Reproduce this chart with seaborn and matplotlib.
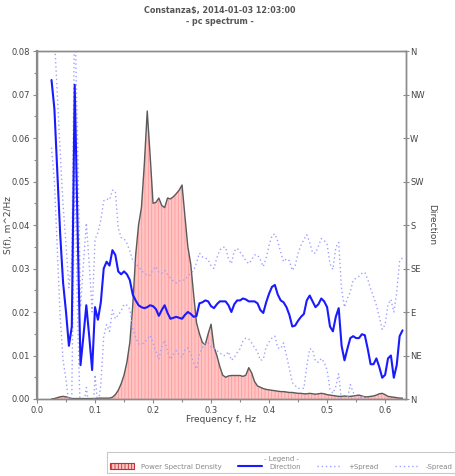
import numpy as np
import pandas as pd
import matplotlib
matplotlib.use("Agg")
import matplotlib.pyplot as plt
from matplotlib.patches import Patch
from matplotlib.lines import Line2D
from matplotlib.ticker import MultipleLocator, FormatStrFormatter
import seaborn as sns

# Frequency grid, Hz
freq_start, freq_step = 0.025, 0.005

# Power spectral density, m^2/Hz
psd = [
    0.0000, 0.0001, 0.0003, 0.0005, 0.0006, 0.0005, 0.0003, 0.0001, 0.0001, 0.0001,
    0.0001, 0.0001, 0.0001, 0.0001, 0.0001, 0.0001, 0.0002, 0.0002, 0.0002, 0.0002,
    0.0002, 0.0004, 0.0010, 0.0020, 0.0035, 0.0055, 0.0085, 0.0130, 0.0215, 0.0330,
    0.0400, 0.0440, 0.0540, 0.0662, 0.0560, 0.0450, 0.0452, 0.0462, 0.0445, 0.0440,
    0.0462, 0.0460, 0.0465, 0.0472, 0.0480, 0.0492, 0.0420, 0.0350, 0.0310, 0.0240,
    0.0175, 0.0150, 0.0130, 0.0125, 0.0150, 0.0172, 0.0120, 0.0100, 0.0075, 0.0055,
    0.0050, 0.0053, 0.0054, 0.0054, 0.0054, 0.0054, 0.0052, 0.0055, 0.0072, 0.0060,
    0.0040, 0.0030, 0.0027, 0.0024, 0.0022, 0.0021, 0.0020, 0.0019, 0.0018, 0.0017,
    0.0017, 0.0016, 0.0015, 0.0015, 0.0014, 0.0013, 0.0013, 0.0012, 0.0012, 0.0013,
    0.0012, 0.0011, 0.0012, 0.0013, 0.0012, 0.0010, 0.0009, 0.0008, 0.0007, 0.0006,
    0.0006, 0.0007, 0.0006, 0.0006, 0.0007, 0.0008, 0.0009, 0.0007, 0.0005, 0.0005,
    0.0006, 0.0007, 0.0009, 0.0012, 0.0013, 0.0010, 0.0006, 0.0005, 0.0004, 0.0003,
    0.0002, 0.0002,
]

# Mean wave direction, degrees (0 = N)
direction = [
    330, 300, 235, 170, 120, 90, 55, 75, 325, 175,
    35, 65, 97, 65, 30, 95, 82, 100, 135, 142,
    138, 154, 149, 132, 129, 132, 129, 123, 108, 102,
    97, 95, 94, 95, 97, 96, 93, 86, 92, 97,
    89, 83, 84, 85, 84, 83, 87, 90, 88, 85,
    86, 99, 100, 102, 101, 96, 94, 98, 101, 101,
    101, 97, 90, 98, 102, 102, 104, 103, 101, 101,
    101, 99, 92, 89, 100, 109, 116, 118, 108, 102,
    100, 95, 87, 75, 76, 81, 85, 88, 102, 107,
    101, 95, 98, 104, 101, 95, 75, 70, 85, 94,
    55, 40, 52, 63, 65, 63, 63, 67, 66, 52,
    36, 36, 42, 33, 22, 25, 42, 45, 22, 35,
    65, 71,
]

# Directional spread, degrees
spread = [
    70, 75, 80, 85, 80, 70, 60, 70, 80, 90,
    60, 75, 85, 75, 60, 70, 90, 85, 70, 65,
    68, 62, 66, 45, 38, 34, 32, 30, 35, 38,
    40, 38, 36, 33, 31, 38, 44, 45, 38, 36,
    40, 42, 38, 35, 38, 40, 36, 37, 42, 48,
    55, 52, 47, 44, 43, 42, 41, 48, 53, 56,
    56, 48, 50, 55, 54, 50, 44, 40, 39, 43,
    48, 50, 52, 48, 46, 50, 53, 53, 55, 50,
    42, 50, 56, 58, 62, 70, 74, 77, 68, 55,
    50, 56, 60, 62, 63, 65, 65, 64, 72, 68,
    58, 55, 52, 48, 58, 62, 64, 63, 65, 72,
    78, 70, 55, 52, 50, 52, 56, 58, 68, 75,
    78, 75,
]

compass_labels = ["N", "NE", "E", "SE", "S", "SW", "W", "NW", "N"]
freq_ticks = [0.0, 0.1, 0.2, 0.3, 0.4, 0.5, 0.6]

freq = freq_start + freq_step * np.arange(len(psd))
df = pd.DataFrame({
    "freq": freq,
    "psd": psd,
    "dir": direction,
    "plus": np.array(direction) + np.array(spread),
    "minus": np.array(direction) - np.array(spread),
})

sns.set_theme(style="white")
plt.rcParams["font.family"] = ["DejaVu Sans"]
plt.rcParams["hatch.linewidth"] = 0.6

text_col = "#555555"
label_col = "#444444"
axis_col = "#8a8a8a"
pink = "#ffc4c4"
hatch_col = "#ff9a9a"
blue = "#1a1aff"
lav = "#a0a0ff"
dots = (0, (1, 2))

fig = plt.figure(figsize=(4.55, 4.76), dpi=100)
ax = fig.add_axes([37 / 455, 1 - 399 / 476, (406 - 37) / 455, (399 - 51) / 476])
ax2 = ax.twinx()

# spectral density: hatched pink area with dark outline
ax.fill_between(df["freq"], 0, df["psd"], facecolor=pink, edgecolor=hatch_col,
                hatch="|||||", linewidth=0, zorder=1)
sns.lineplot(data=df, x="freq", y="psd", ax=ax, color="#5a5a5a", linewidth=1.0,
             zorder=2, legend=False)

# direction and spread on the compass axis
ax2.set_zorder(ax.get_zorder() + 1)
ax2.patch.set_visible(False)
sns.lineplot(data=df, x="freq", y="plus", ax=ax2, color=lav, linewidth=1.0,
             linestyle=dots, legend=False)
sns.lineplot(data=df, x="freq", y="minus", ax=ax2, color=lav, linewidth=1.0,
             linestyle=dots, legend=False)
sns.lineplot(data=df, x="freq", y="dir", ax=ax2, color=blue, linewidth=1.5,
             legend=False)

ax.set_xlim(0, 0.636)
ax.set_ylim(0, 0.08)
ax2.set_ylim(0, 360)

ax.set_xticks(freq_ticks)
ax.set_xticklabels([f"{t:.1f}" for t in freq_ticks])
ax.xaxis.set_minor_locator(MultipleLocator(0.05))
ax.yaxis.set_major_locator(MultipleLocator(0.01))
ax.yaxis.set_minor_locator(MultipleLocator(0.005))
ax.yaxis.set_major_formatter(FormatStrFormatter("%.2f"))
ax2.set_yticks(np.arange(0, 361, 45))
ax2.set_yticklabels(compass_labels)

for a in (ax, ax2):
    for sp in a.spines.values():
        sp.set_color(axis_col)
        sp.set_linewidth(1.0)
ax.spines["left"].set_linewidth(1.6)

ax.tick_params(axis="both", which="major", direction="out", length=3, width=0.8,
               color=axis_col, labelsize=6, labelcolor=label_col, pad=2)
ax.tick_params(axis="both", which="minor", direction="out", length=2, width=0.8,
               color=axis_col)
ax.tick_params(axis="y", left=True, which="both")
ax.tick_params(axis="x", bottom=True, which="both")
ax2.tick_params(axis="y", right=True, direction="inout", length=4, width=0.8,
                color=axis_col, labelsize=6, labelcolor=label_col, pad=1)

ax.set_xlabel("Frequency f, Hz", fontsize=6.5, color=label_col)
ax.set_ylabel("S(f), m^2/Hz", fontsize=6.5, color=label_col)
ax2.set_ylabel("Direction", fontsize=6.5, color=label_col, rotation=-90)
ax.xaxis.set_label_coords(0.5, -(420 - 399) / 348, transform=ax.transAxes)
ax.yaxis.set_label_coords(-(37 - 9) / 369, 0.5, transform=ax.transAxes)
ax2.yaxis.set_label_coords(1 + (432 - 406) / 369, 0.5, transform=ax2.transAxes)
ax.xaxis.label.set_va("center")
ax.yaxis.label.set_va("center")
ax2.yaxis.label.set_va("center")

fig.text(220 / 455, 1 - 11 / 476, "Constanza$, 2014-01-03 12:03:00", ha="center",
         va="center", fontsize=5.8, color=text_col, fontweight="bold")
fig.text(220 / 455, 1 - 22 / 476, "- pc spectrum -", ha="center", va="center",
         fontsize=5.8, color=text_col, fontweight="bold")

handles = [
    Patch(facecolor=pink, edgecolor="#c03030", hatch="|||||", linewidth=0.8),
    Line2D([], [], color=blue, linewidth=1.5),
    Line2D([], [], color=lav, linewidth=1.0, linestyle=dots),
    Line2D([], [], color=lav, linewidth=1.0, linestyle=dots),
]
labels = ["Power Spectral Density", "Direction", "+Spread", "-Spread"]
leg = fig.legend(handles, labels, loc="lower left",
                 bbox_to_anchor=(107 / 455, 3 / 476), borderaxespad=0,
                 ncol=4, fontsize=5.0, title="- Legend -", title_fontsize=5.0,
                 frameon=True, fancybox=False, borderpad=0.5,
                 handlelength=3.4, handleheight=0.9, handletextpad=1.0,
                 columnspacing=2.4, labelspacing=0.2)
leg.get_frame().set_edgecolor("#bbbbbb")
leg.get_frame().set_linewidth(0.8)
for t in leg.get_texts():
    t.set_color("#888888")
leg.get_title().set_color("#888888")

fig.savefig("out.png", dpi=100, facecolor="white")
